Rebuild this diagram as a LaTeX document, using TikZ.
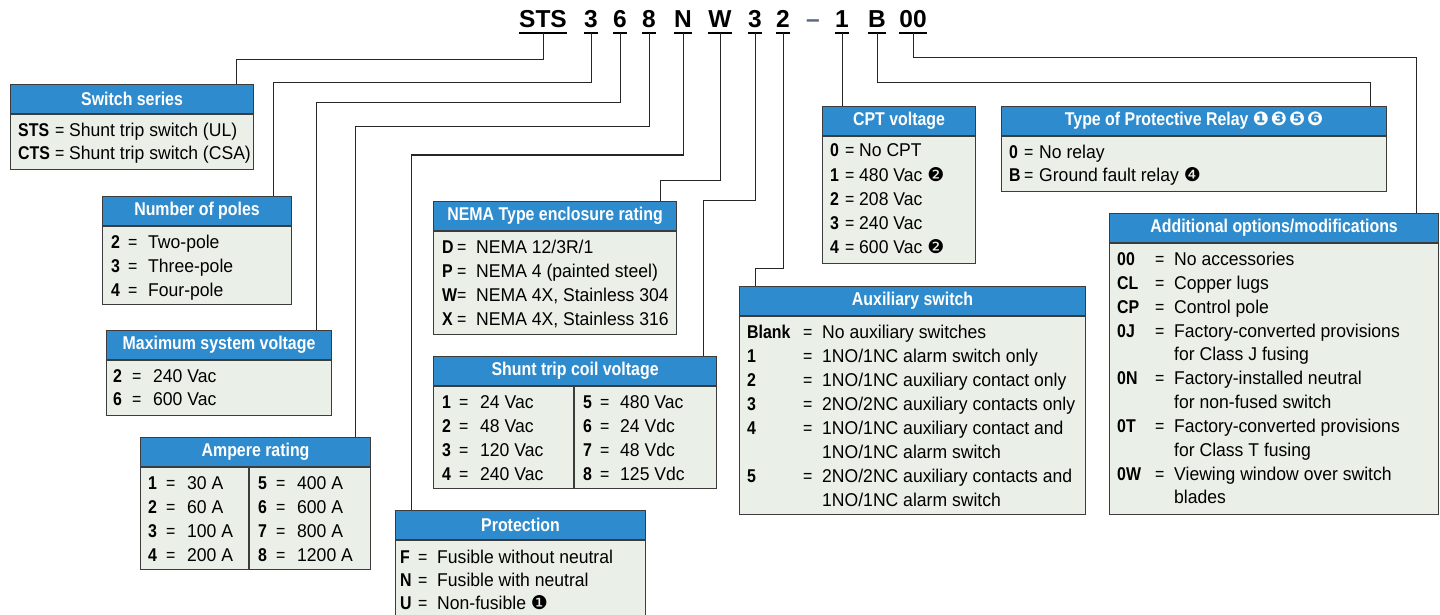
\documentclass[tikz,border=0pt]{standalone}
\usepackage{fontspec}
\setmainfont{Liberation Sans}
\newfontfamily\condfont[FakeStretch=0.86]{Liberation Sans}
\newfontfamily\bodyfont[FakeStretch=0.95]{Liberation Sans}
\newfontfamily\dingfont{DejaVu Sans}
\usetikzlibrary{positioning,calc}

\definecolor{hdrblue}{RGB}{46,139,205}
\definecolor{bodygreen}{RGB}{234,240,231}
\definecolor{boxline}{RGB}{60,60,60}
\definecolor{dashgray}{RGB}{90,105,125}

\newcommand\key[1]{{\condfont\bfseries #1}}
\newcommand\ent[4]{\makebox[#1pt][l]{\key{#3}}\makebox[#2pt][l]{{\condfont =}}#4}
\newcommand\cnum[1]{{\dingfont\fontsize{19}{19}\selectfont #1}}
\newcommand\optbox[6]{%
  \node[hdr, minimum width=#4pt] (#1) at (#2,#3) {#6};
  \node[bodybox, minimum width=#4pt, minimum height=#5pt] (#1-body) at (#1.south west) {};
}

\tikzset{
  hdr/.style={draw=boxline, line width=1.1pt, fill=hdrblue, text=white, anchor=north west,
    inner sep=0pt, minimum height=29pt, font=\condfont\bfseries\fontsize{18.5}{20}\selectfont},
  bodybox/.style={draw=boxline, line width=1.1pt, fill=bodygreen, anchor=north west, inner sep=0pt},
  divider/.style={draw=boxline, line width=1.1pt},
  row/.style={anchor=base west, inner sep=0pt, font=\bodyfont\fontsize{18.5}{20}\selectfont},
  codech/.style={anchor=base, inner xsep=0pt, inner ysep=5pt, text depth=0pt,
    font=\bfseries\fontsize{24.5}{26}\selectfont},
  uline/.style={line width=2pt},
  wire/.style={draw=black!85, line width=1pt},
}

\begin{document}
\begin{tikzpicture}[x=1pt,y=-1pt]
\fill[white] (0,0) rectangle (1440,615);
\useasboundingbox (0,0) rectangle (1440,615);

% catalog number
\foreach \n/\c/\x in {cS/STS/543, c3a/3/591, c6/6/620, c8/8/649, cN/N/683, cW/W/720,
    c3b/3/755, c2/2/783, c1/1/842, cB/B/877, c00/00/913}
  {\node[codech] (\n) at (\x,28) {\c};
   \draw[uline] (\n.south west) -- (\n.south east);}
\node[codech, text=dashgray] (cdash) at (813,28) {–};

% boxes
\optbox{series}{10}{84}{243}{55}{Switch series}
\optbox{poles}{102}{196}{189}{78}{Number of poles}
\optbox{maxv}{106}{330}{225}{55}{Maximum system voltage}
\optbox{amps}{140}{437}{230}{102}{Ampere rating}
\optbox{nema}{433}{201}{243}{103}{NEMA Type enclosure rating}
\optbox{coil}{433}{356}{283}{102}{Shunt trip coil voltage}
\optbox{prot}{395}{510}{250}{90}{Protection}
\optbox{cpt}{822}{106}{153}{127}{CPT voltage}
\optbox{relay}{1001}{106}{385}{55}{Type of Protective Relay \cnum{❶\hspace{2pt}❸\hspace{2pt}❺\hspace{2pt}❻}}
\optbox{aux}{739}{286}{346}{198}{Auxiliary switch}
\optbox{addl}{1109}{213}{329}{271}{Additional options/modifications}

\draw[divider] (amps-body.north west) ++(109,0) -- ++(0,102);
\draw[divider] (coil-body.north west) ++(141,0) -- ++(0,102);

% rows
\foreach \k/\t [count=\i from 0] in {STS/Shunt trip switch (UL), CTS/Shunt trip switch (CSA)}
  \node[row] (series-r\i) at (18,{136+24*\i}) {\ent{37}{14}{\k}{\t}};
\foreach \k/\t [count=\i from 0] in {2/Two-pole, 3/Three-pole, 4/Four-pole}
  \node[row] (poles-r\i) at (111,{248+24*\i}) {\ent{17}{20}{\k}{\t}};
\foreach \k/\t [count=\i from 0] in {2/240 Vac, 6/600 Vac}
  \node[row] (maxv-r\i) at (113,{382+23*\i}) {\ent{19}{21}{\k}{\t}};
\foreach \k/\t [count=\i from 0] in {1/30 A, 2/60 A, 3/100 A, 4/200 A}
  \node[row] (amps-l\i) at (148,{489+24*\i}) {\ent{18}{21}{\k}{\t}};
\foreach \k/\t [count=\i from 0] in {5/400 A, 6/600 A, 7/800 A, 8/1200 A}
  \node[row] (amps-r\i) at (258,{489+24*\i}) {\ent{18}{21}{\k}{\t}};
\foreach \k/\t [count=\i from 0] in {D/{NEMA 12/3R/1}, P/NEMA 4 (painted steel),
    W/{NEMA 4X, Stainless 304}, X/{NEMA 4X, Stainless 316}}
  \node[row] (nema-r\i) at (442,{253+24*\i}) {\ent{15}{19}{\k}{\t}};
\foreach \k/\t [count=\i from 0] in {1/24 Vac, 2/48 Vac, 3/120 Vac, 4/240 Vac}
  \node[row] (coil-l\i) at (442,{408+24*\i}) {\ent{17}{21}{\k}{\t}};
\foreach \k/\t [count=\i from 0] in {5/480 Vac, 6/24 Vdc, 7/48 Vdc, 8/125 Vdc}
  \node[row] (coil-r\i) at (583,{408+24*\i}) {\ent{17}{20}{\k}{\t}};
\foreach \k/\t [count=\i from 0] in {F/Fusible without neutral, N/Fusible with neutral,
    U/Non-fusible \cnum{❶}}
  \node[row] (prot-r\i) at (400,{563+23*\i}) {\ent{18}{19}{\k}{\t}};
\foreach \k/\t [count=\i from 0] in {0/No CPT, 1/480 Vac \cnum{❷}, 2/208 Vac, 3/240 Vac,
    4/600 Vac \cnum{❷}}
  \node[row] (cpt-r\i) at (830,{157+24*\i}) {\ent{15}{14}{\k}{\t}};
\foreach \k/\t [count=\i from 0] in {0/No relay, B/Ground fault relay \cnum{❹}}
  \node[row] (relay-r\i) at (1009,{158+23*\i}) {\ent{15}{15}{\k}{\t}};
\foreach \y/\k/\t [count=\i from 0] in {338/Blank/No auxiliary switches,
    362/1/{1NO/1NC alarm switch only}, 386/2/{1NO/1NC auxiliary contact only},
    410/3/{2NO/2NC auxiliary contacts only}, 434/4/{1NO/1NC auxiliary contact and},
    482/5/{2NO/2NC auxiliary contacts and}}
  \node[row] (aux-r\i) at (747,\y) {\ent{56}{19}{\k}{\t}};
\node[row] (aux-c4) at (822,458) {1NO/1NC alarm switch};
\node[row] (aux-c5) at (822,506) {1NO/1NC alarm switch};
\foreach \y/\k/\t [count=\i from 0] in {265/00/No accessories, 289/CL/Copper lugs,
    313/CP/Control pole, 337/0J/Factory-converted provisions,
    384/0N/Factory-installed neutral, 432/0T/Factory-converted provisions,
    480/0W/Viewing window over switch}
  \node[row] (addl-r\i) at (1117,\y) {\ent{38}{19}{\k}{\t}};
\node[row] (addl-c3) at (1174,360) {for Class J fusing};
\node[row] (addl-c4) at (1174,408) {for non-fused switch};
\node[row] (addl-c5) at (1174,456) {for Class T fusing};
\node[row] (addl-c6) at (1174,503) {blades};

% leader lines
\coordinate (kS) at (236,60);
\coordinate (k3a) at (273,83);
\coordinate (k6) at (316,103);
\coordinate (k8) at (355,127);
\coordinate (kN) at (411,155);
\coordinate (kW) at (660,180);
\coordinate (k3b) at (703,200);
\coordinate (k2) at (755,268);
\coordinate (kB) at (1370,83);
\coordinate (k00) at (1416,58);
\draw[wire] (cS.south) |- (kS) -- (kS |- series.north);
\draw[wire] (c3a.south) |- (k3a) -- (k3a |- poles.north);
\draw[wire] (c6.south) |- (k6) -- (k6 |- maxv.north);
\draw[wire] (c8.south) |- (k8) -- (k8 |- amps.north);
\draw[wire] (cN.south) |- (kN) -- (kN |- prot.north);
\draw[wire] (cW.south) |- (kW) -- (kW |- nema.north);
\draw[wire] (c3b.south) |- (k3b) -- (k3b |- coil.north);
\draw[wire] (c2.south) |- (k2) -- (k2 |- aux.north);
\draw[wire] (c1.south) -- (c1.south |- cpt.north);
\draw[wire] (cB.south) |- (kB) -- (kB |- relay.north);
\draw[wire] (c00.south) |- (k00) -- (k00 |- addl.north);
\end{tikzpicture}
\end{document}
